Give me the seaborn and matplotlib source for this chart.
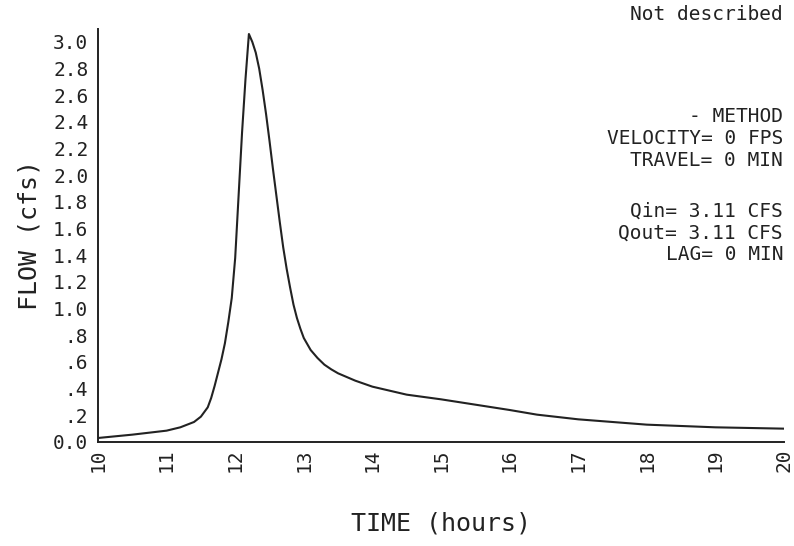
import matplotlib
matplotlib.use("Agg")
import matplotlib.pyplot as plt
import seaborn as sns
import pandas as pd

# Hydrograph: time (hours) vs flow (cfs)
time_hr = [10.0, 10.5, 11.0, 11.2, 11.4, 11.5, 11.6, 11.65, 11.7, 11.75,
           11.8, 11.85, 11.9, 11.95, 12.0, 12.05, 12.1, 12.15, 12.2, 12.25,
           12.3, 12.35, 12.4, 12.45, 12.5, 12.55, 12.6, 12.65, 12.7, 12.75,
           12.8, 12.85, 12.9, 12.95, 13.0, 13.1, 13.2, 13.3, 13.4, 13.5,
           13.75, 14.0, 14.25, 14.5, 15.0, 15.5, 16.0, 16.4, 17.0, 17.5,
           18.0, 18.5, 19.0, 19.5, 20.0]
flow_cfs = [0.03, 0.055, 0.085, 0.11, 0.15, 0.19, 0.26, 0.33, 0.42, 0.52,
            0.62, 0.74, 0.90, 1.08, 1.38, 1.85, 2.32, 2.72, 3.06, 3.00,
            2.92, 2.80, 2.64, 2.46, 2.26, 2.05, 1.85, 1.65, 1.46, 1.30,
            1.16, 1.03, 0.93, 0.85, 0.78, 0.69, 0.63, 0.58, 0.545, 0.515,
            0.46, 0.415, 0.385, 0.355, 0.32, 0.28, 0.24, 0.205, 0.17, 0.15,
            0.13, 0.12, 0.11, 0.105, 0.10]

x_ticks = list(range(10, 21))
y_ticks = [0.0, 0.2, 0.4, 0.6, 0.8, 1.0, 1.2, 1.4, 1.6, 1.8, 2.0, 2.2, 2.4, 2.6, 2.8, 3.0]
y_tick_labels = ["0.0", ".2", ".4", ".6", ".8", "1.0", "1.2", "1.4", "1.6", "1.8",
                 "2.0", "2.2", "2.4", "2.6", "2.8", "3.0"]

header = "Not described"
routing_lines = ["- METHOD", "VELOCITY= 0 FPS", "TRAVEL= 0 MIN"]
flow_lines = ["Qin= 3.11 CFS", "Qout= 3.11 CFS", "LAG= 0 MIN"]

sns.set_style("white")
plt.rcParams["font.family"] = ["DejaVu Sans Mono", "DejaVu Sans"]

df = pd.DataFrame({"time": time_hr, "flow": flow_cfs})

fig = plt.figure(figsize=(7.94, 5.46), dpi=100)
ax = fig.add_axes([0.1234, 0.1905, 0.864, 0.757])

sns.lineplot(data=df, x="time", y="flow", ax=ax, color="#222222", linewidth=1.5)

ink = "#222222"
ax.set_xlim(10, 20)
ax.set_ylim(0, 3.1)
ax.set_xticks(x_ticks)
ax.set_xticklabels([str(t) for t in x_ticks], rotation=90, fontsize=14, color=ink)
ax.set_yticks(y_ticks)
ax.set_yticklabels(y_tick_labels, fontsize=14, color=ink)
ax.tick_params(axis="both", direction="in", length=5, width=1.2, color=ink)
ax.tick_params(axis="y", pad=7)
ax.tick_params(axis="x", pad=5)

for side in ("top", "right"):
    ax.spines[side].set_visible(False)
for side in ("left", "bottom"):
    ax.spines[side].set_color(ink)
    ax.spines[side].set_linewidth(1.4)

ax.set_xlabel("TIME (hours)", fontsize=18, color=ink, labelpad=28)
ax.set_ylabel("FLOW (cfs)", fontsize=18, color=ink, labelpad=8)

txt = dict(ha="right", va="center", fontsize=14, color=ink,
           transform=fig.transFigure)
fig.text(783 / 794, 1 - 15 / 546, header, **txt)
for i, s in enumerate(routing_lines):
    fig.text(783 / 794, 1 - (117 + 21.5 * i) / 546, s, **txt)
for i, s in enumerate(flow_lines):
    fig.text(783 / 794, 1 - (211 + 22 * i) / 546, s, **txt)

fig.savefig("out.png", dpi=100, facecolor="white")
